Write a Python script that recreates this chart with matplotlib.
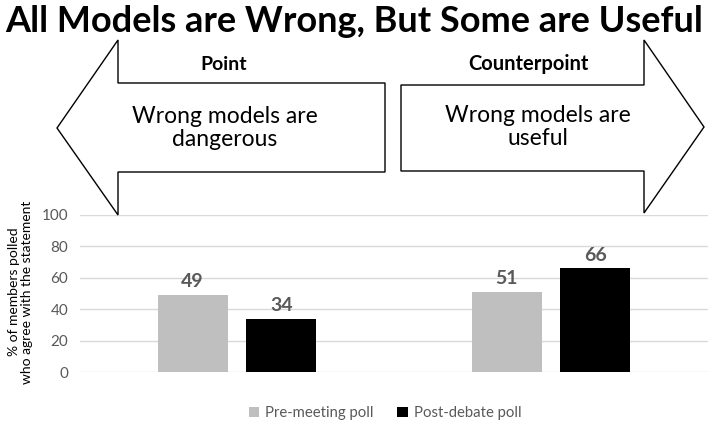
import matplotlib
matplotlib.use("Agg")
import matplotlib.pyplot as plt
from matplotlib.patches import Polygon
import numpy as np

categories = ["Point", "Counterpoint"]
statements = ["Wrong models are\ndangerous", "Wrong models are\nuseful"]
series_names = ["Pre-meeting poll", "Post-debate poll"]
pre_meeting = [49, 51]
post_debate = [34, 66]
yticks = [0, 20, 40, 60, 80, 100]

W, H = 709, 428
plt.rcParams['font.family'] = ['Lato', 'DejaVu Sans']
fig = plt.figure(figsize=(W / 100, H / 100), dpi=100)

def fx(x):
    return x / W

def fy(y):
    return 1 - y / H

ax = fig.add_axes([fx(80), fy(372), fx(708) - fx(80), fy(215) - fy(372)])
x = np.arange(len(categories))
bw = 0.223
off = bw / 2 + 0.03
ax.bar(x - off, pre_meeting, bw, color="#bfbfbf", label=series_names[0], zorder=3)
ax.bar(x + off, post_debate, bw, color="#000000", label=series_names[1], zorder=3)
for xi, v in zip(x - off, pre_meeting):
    ax.text(xi, v + 3, str(v), ha="center", va="bottom", fontsize=14,
            fontweight="bold", color="#595959")
for xi, v in zip(x + off, post_debate):
    ax.text(xi, v + 3, str(v), ha="center", va="bottom", fontsize=14,
            fontweight="bold", color="#595959")
ax.set_xlim(-0.5, 1.5)
ax.set_ylim(0, 100)
ax.set_yticks(yticks)
ax.set_xticks([])
ax.grid(axis="y", color="#d9d9d9", linewidth=1, zorder=0)
for s in ax.spines.values():
    s.set_visible(False)
ax.tick_params(axis="y", length=0, labelsize=11, labelcolor="#595959", pad=8.5)

fig.text(fx(21), fy(292), "% of members polled\nwho agree with the statement", rotation=90,
         ha="center", va="center", fontsize=10, linespacing=1.1, color="#000000")

# Arrows
left_arrow = [(fx(57), fy(128)), (fx(118), fy(40)), (fx(118), fy(83)), (fx(385), fy(83)),
              (fx(385), fy(172)), (fx(118), fy(172)), (fx(118), fy(215))]
right_arrow = [(fx(704), fy(127)), (fx(644), fy(40)), (fx(644), fy(85)), (fx(401), fy(85)),
               (fx(401), fy(171)), (fx(644), fy(171)), (fx(644), fy(213))]
for pts in (left_arrow, right_arrow):
    fig.patches.append(Polygon(pts, closed=True, facecolor="white", edgecolor="black",
                               linewidth=1, transform=fig.transFigure, zorder=5))

fig.text(0.5, fy(21), "All Models are Wrong, But Some are Useful", ha="center", va="center",
         fontsize=26, fontweight="bold", zorder=6)
fig.text(fx(224), fy(64), categories[0], ha="center", va="center", fontsize=14,
         fontweight="bold", zorder=6)
fig.text(fx(528), fy(64), categories[1], ha="center", va="center", fontsize=14.5,
         fontweight="bold", zorder=6)
fig.text(fx(225), fy(128), statements[0], ha="center", va="center", fontsize=16.5,
         linespacing=1.15, zorder=6)
fig.text(fx(538), fy(127), statements[1], ha="center", va="center", fontsize=16.5,
         linespacing=1.15, zorder=6)

handles, labels = ax.get_legend_handles_labels()
fig.legend(handles, labels, loc="center", bbox_to_anchor=(fx(385), fy(413)), ncol=2,
           frameon=False, fontsize=10.7, handlelength=0.7, handleheight=0.7,
           handletextpad=0.4, columnspacing=1.6, labelcolor="#595959")

fig.savefig("out.png", dpi=100)
